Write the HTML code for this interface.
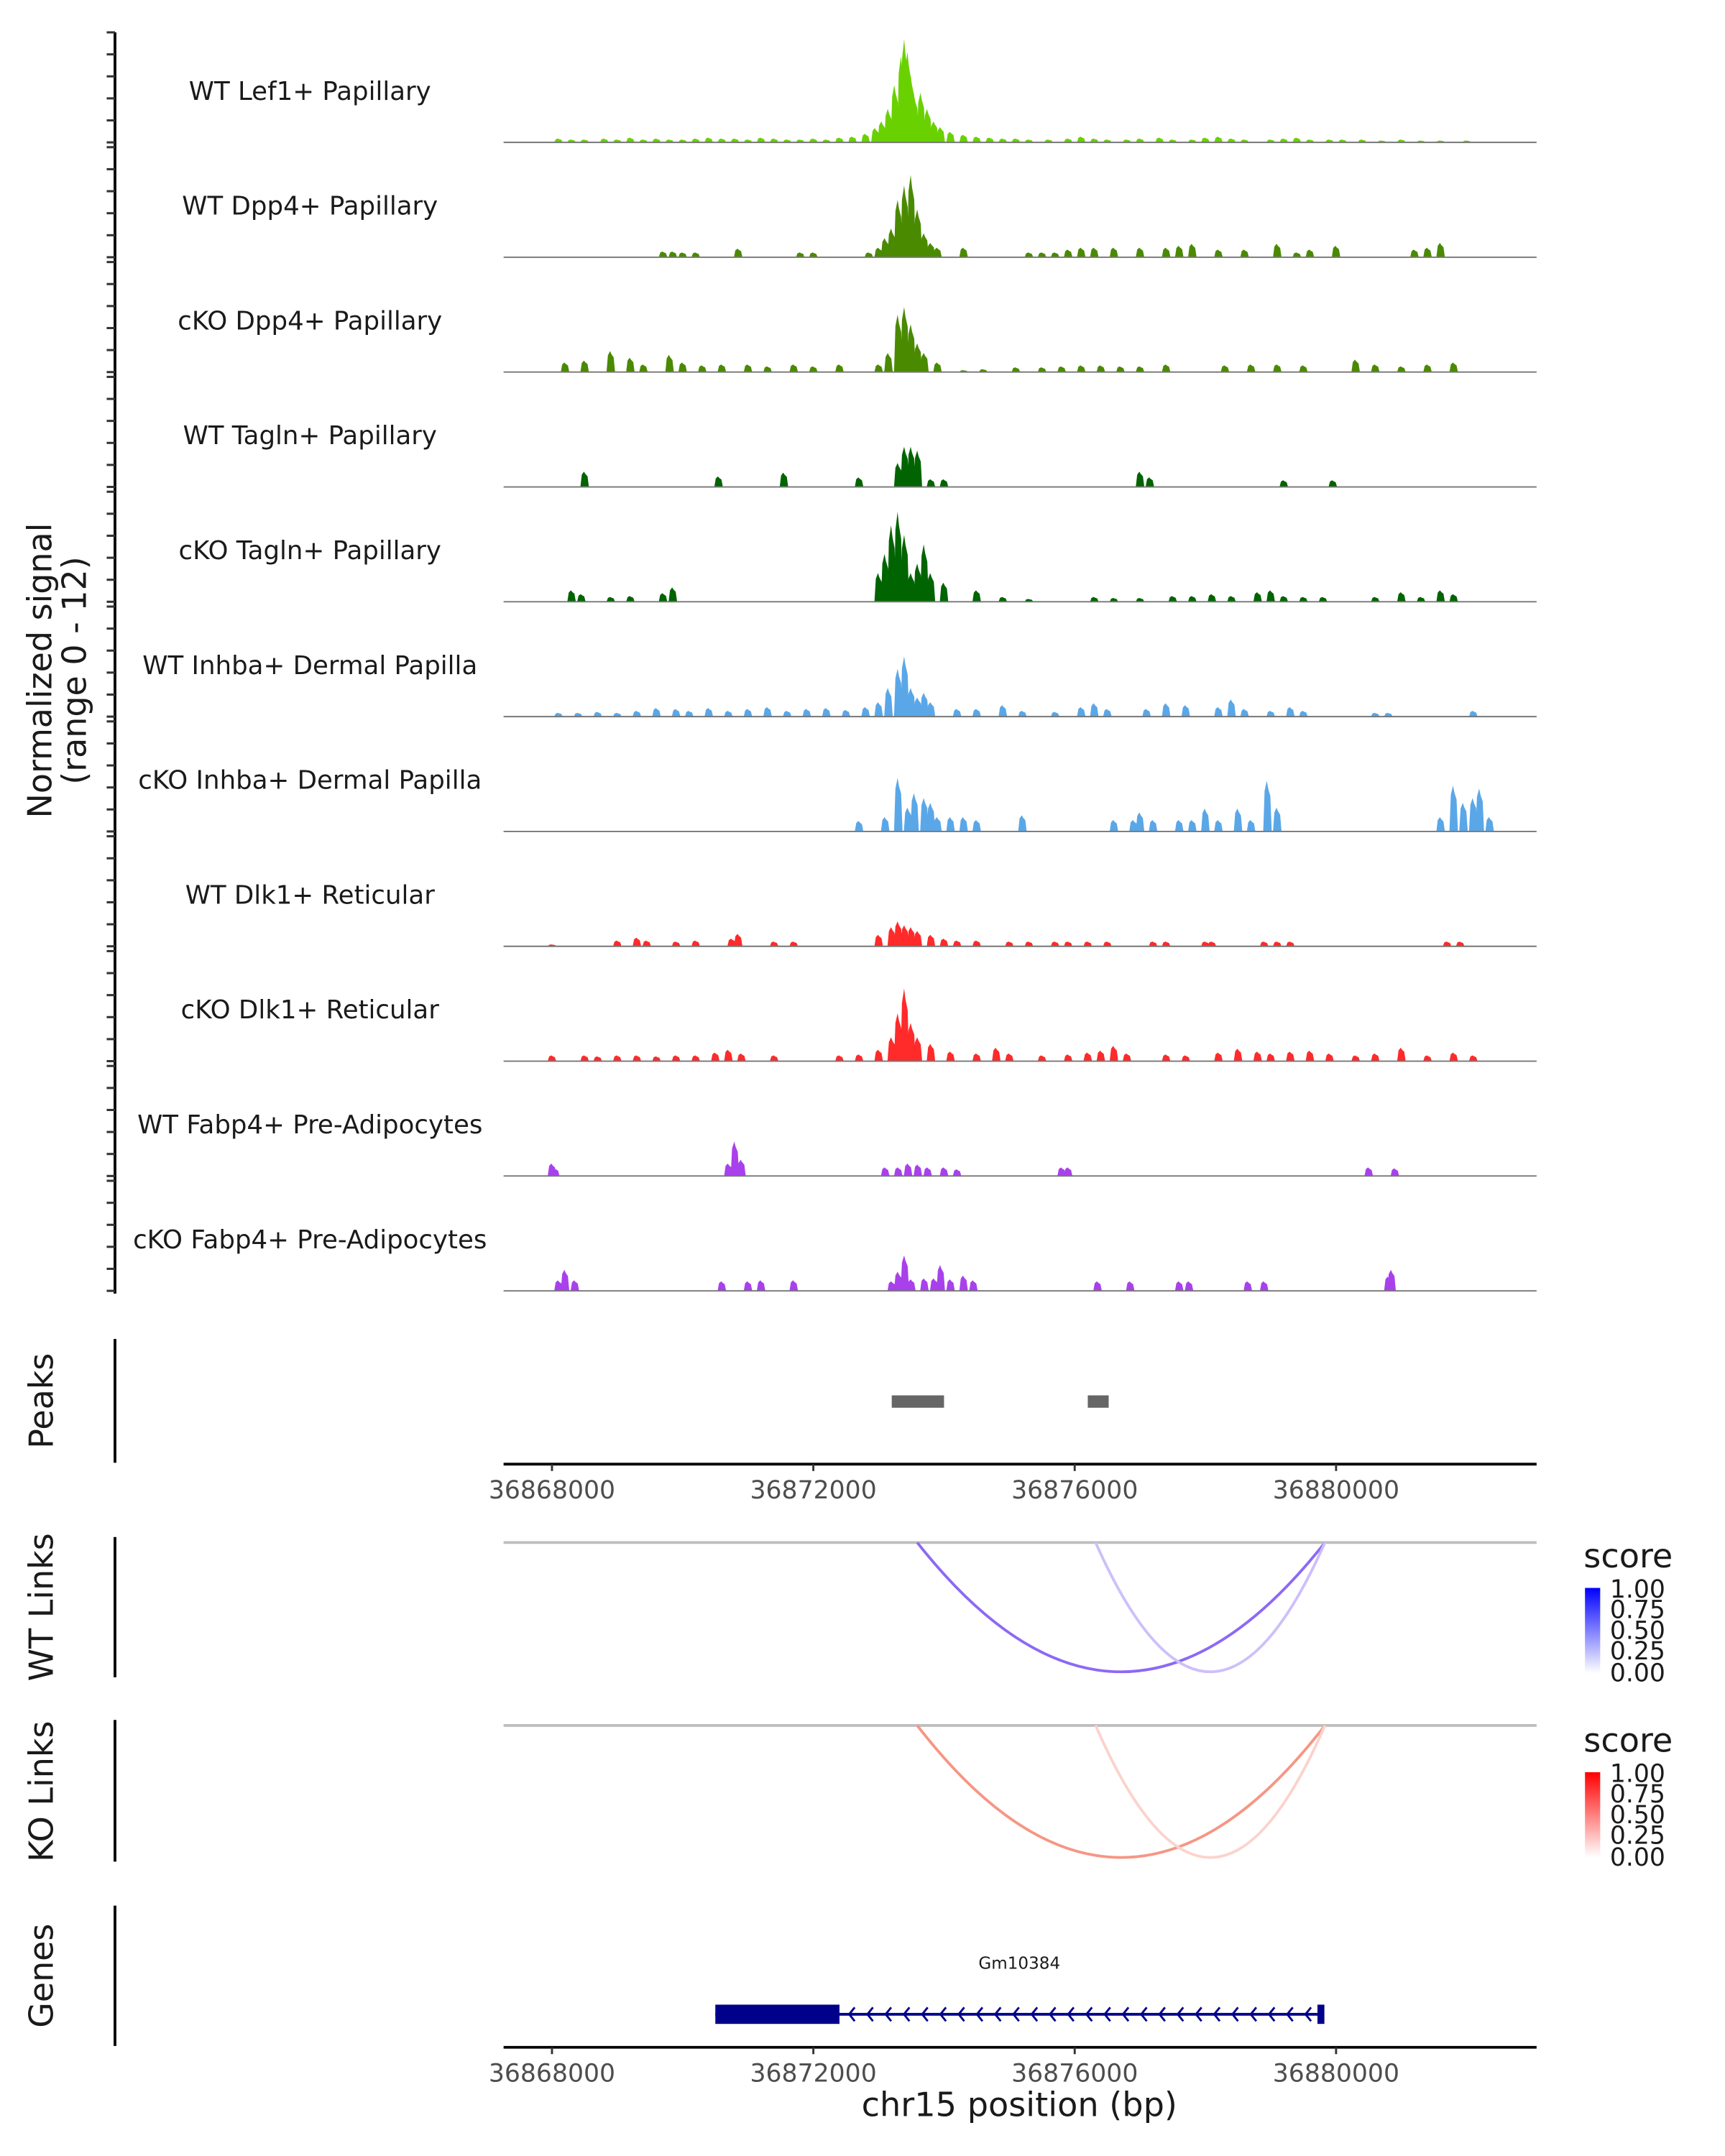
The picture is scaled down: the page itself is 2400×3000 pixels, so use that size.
<!DOCTYPE html>
<html><head><meta charset="utf-8">
<style>
html,body{margin:0;padding:0;background:#fff;}
svg{display:block;}
text{font-family:"DejaVu Sans","Liberation Sans",sans-serif;fill:#1a1a1a;}
</style></head>
<body>
<svg id="chart" xmlns="http://www.w3.org/2000/svg" width="2400" height="3000" viewBox="0 0 2400 3000">
<defs>
<linearGradient id="gblue" x1="0" y1="1" x2="0" y2="0"><stop offset="0" stop-color="#ffffff"/><stop offset="1" stop-color="#0000ff"/></linearGradient>
<linearGradient id="gred" x1="0" y1="1" x2="0" y2="0"><stop offset="0" stop-color="#ffffff"/><stop offset="1" stop-color="#ff0000"/></linearGradient>
</defs>
<g transform="matrix(1.924 0 0 1.9138 -7.4 1)">
<g id="tracks"></g>
<text transform="translate(41,487) rotate(-90)" text-anchor="middle" font-size="24">Normalized signal</text>
<text transform="translate(66,487) rotate(-90)" text-anchor="middle" font-size="24">(range 0 - 12)</text>
<line x1="87" y1="23" x2="87" y2="940" stroke="#000" stroke-width="2"/>
<g id="lticks"></g>

<text transform="translate(42,1018) rotate(-90)" text-anchor="middle" font-size="24">Peaks</text>
<line x1="87" y1="973" x2="87" y2="1063" stroke="#000" stroke-width="2"/>
<g id="peaks"></g>
<g id="axis1"></g>

<text transform="translate(42,1168) rotate(-90)" text-anchor="middle" font-size="24">WT Links</text>
<line x1="87" y1="1117" x2="87" y2="1219" stroke="#000" stroke-width="2"/>
<line x1="368" y1="1121" x2="1115" y2="1121" stroke="#bebebe" stroke-width="2"/>
<g id="wtlinks"></g>

<text transform="translate(42,1302) rotate(-90)" text-anchor="middle" font-size="24">KO Links</text>
<line x1="87" y1="1250" x2="87" y2="1353" stroke="#000" stroke-width="2"/>
<line x1="368" y1="1254" x2="1115" y2="1254" stroke="#bebebe" stroke-width="2"/>
<g id="kolinks"></g>

<g>
<text x="1149" y="1139" font-size="24">score</text>
<rect x="1150" y="1154" width="11" height="62" fill="url(#gblue)"/>
<g font-size="18"><text x="1168" y="1161">1.00</text><text x="1168" y="1176">0.75</text><text x="1168" y="1191">0.50</text><text x="1168" y="1206">0.25</text><text x="1168" y="1222">0.00</text></g>
</g>
<g>
<text x="1149" y="1273" font-size="24">score</text>
<rect x="1150" y="1288" width="11" height="62" fill="url(#gred)"/>
<g font-size="18"><text x="1168" y="1295">1.00</text><text x="1168" y="1310">0.75</text><text x="1168" y="1325">0.50</text><text x="1168" y="1340">0.25</text><text x="1168" y="1356">0.00</text></g>
</g>

<text transform="translate(42,1436) rotate(-90)" text-anchor="middle" font-size="24">Genes</text>
<line x1="87" y1="1385" x2="87" y2="1487" stroke="#000" stroke-width="2"/>
<g id="genes"></g>
<g id="axis2"></g>
<text x="741" y="1538" text-anchor="middle" font-size="24">chr15 position (bp)</text>
</g>
</svg>
<script>
// ---- data (offsets in kb from 36868000; values in normalized signal) ----
const trackNames = ["WT Lef1+ Papillary","WT Dpp4+ Papillary","cKO Dpp4+ Papillary","WT Tagln+ Papillary","cKO Tagln+ Papillary","WT Inhba+ Dermal Papilla","cKO Inhba+ Dermal Papilla","WT Dlk1+ Reticular","cKO Dlk1+ Reticular","WT Fabp4+ Pre-Adipocytes","cKO Fabp4+ Pre-Adipocytes"];
const trackColors = ["#6ad100","#4a8a00","#4a8a00","#006400","#006400","#5aa7e8","#5aa7e8","#ff2a2a","#ff2a2a","#a841ec","#a841ec"];
const t1 = [[0.1,0.4],[0.3,0.3],[0.5,0.3],[0.8,0.4],[1.0,0.3],[1.2,0.5],[1.4,0.3],[1.6,0.4],[1.8,0.3],[2.0,0.3],[2.2,0.4],[2.4,0.5],[2.6,0.4],[2.8,0.4],[3.0,0.3],[3.2,0.5],[3.4,0.4],[3.6,0.3],[3.8,0.3],[4.0,0.4],[4.2,0.3],[4.4,0.5],[4.6,0.6],[4.8,0.9],[4.95,1.5],[5.05,2.2],[5.15,3.5],[5.25,6],[5.35,9],[5.4,10.8],[5.45,9.5],[5.5,7],[5.55,5],[5.65,5.2],[5.75,3.5],[5.85,2.2],[5.95,1.6],[6.1,1.1],[6.3,0.8],[6.5,0.6],[6.7,0.5],[6.9,0.4],[7.1,0.4],[7.3,0.3],[7.6,0.3],[7.9,0.4],[8.1,0.6],[8.3,0.4],[8.5,0.3],[8.8,0.3],[9.0,0.4],[9.3,0.5],[9.5,0.3],[9.8,0.3],[10.0,0.5],[10.2,0.6],[10.4,0.4],[10.6,0.3],[11.0,0.3],[11.2,0.4],[11.4,0.5],[11.6,0.3],[11.9,0.3],[12.1,0.3],[12.4,0.3],[12.7,0.2],[13.0,0.3],[13.3,0.2],[13.6,0.2],[14.0,0.2]];
const t2 = [[1.7,0.6],[1.85,0.6],[2.0,0.5],[2.2,0.5],[2.85,0.9],[3.8,0.5],[4.0,0.5],[4.85,0.5],[5.0,1],[5.1,2],[5.2,3],[5.3,6],[5.4,7.5],[5.5,8.6],[5.6,5],[5.7,2.5],[5.8,1.5],[5.9,1],[6.3,1],[7.3,0.5],[7.5,0.5],[7.7,0.5],[7.9,0.8],[8.1,1],[8.3,1],[8.6,1],[9.0,1],[9.4,1],[9.6,1.2],[9.8,1.4],[10.2,0.8],[10.6,0.8],[11.1,1.4],[11.4,0.5],[11.6,0.8],[12.0,1.2],[13.2,0.8],[13.4,1],[13.6,1.5]];
const t3 = [[0.2,1],[0.5,1.2],[0.9,2.2],[1.2,1.5],[1.4,0.8],[1.8,1.8],[2.0,1],[2.3,0.7],[2.6,0.8],[3.0,0.8],[3.3,0.6],[3.7,0.8],[4.0,0.6],[4.4,0.8],[5.0,0.8],[5.15,2],[5.3,6],[5.4,6.8],[5.5,5],[5.6,3],[5.7,2],[5.9,1],[6.3,0.2],[6.6,0.3],[7.1,0.5],[7.5,0.5],[7.8,0.6],[8.1,0.7],[8.4,0.7],[8.7,0.6],[9.0,0.6],[9.4,0.8],[10.3,0.7],[10.7,0.8],[11.1,0.8],[11.5,0.7],[12.3,1.3],[12.6,0.8],[13.0,0.6],[13.4,0.8],[13.8,1]];
const t4 = [[0.5,1.6],[2.55,1.1],[3.55,1.5],[4.7,1.0],[5.3,2.5],[5.4,4.2],[5.5,4.2],[5.6,3.8],[5.8,0.8],[6.0,0.8],[9.0,1.6],[9.15,1.0],[11.2,0.7],[11.95,0.7]];
const t5 = [[0.3,1.2],[0.45,0.8],[0.9,0.5],[1.2,0.6],[1.7,0.9],[1.85,1.5],[5.0,3],[5.1,5],[5.2,8],[5.3,9.4],[5.4,7],[5.5,3],[5.6,4],[5.7,6],[5.8,3],[6.0,2],[6.5,1.2],[6.9,0.5],[7.3,0.3],[8.3,0.5],[8.6,0.4],[9.0,0.4],[9.5,0.6],[9.8,0.6],[10.1,0.8],[10.4,0.6],[10.8,1],[11.0,1.2],[11.2,0.6],[11.5,0.5],[11.8,0.5],[12.6,0.5],[13.0,1],[13.3,0.5],[13.6,1.2],[13.8,0.8]];
const t6 = [[0.1,0.4],[0.4,0.4],[0.7,0.5],[1.0,0.4],[1.3,0.6],[1.6,0.9],[1.9,0.8],[2.1,0.6],[2.4,0.9],[2.7,0.6],[3.0,0.8],[3.3,1],[3.6,0.6],[3.9,0.8],[4.2,0.9],[4.5,0.7],[4.8,1],[5.0,1.5],[5.15,3],[5.3,5],[5.4,6.3],[5.5,3],[5.6,2],[5.7,2.5],[5.8,1.5],[6.2,0.8],[6.5,0.8],[6.9,1.2],[7.2,0.6],[7.7,0.5],[8.1,1],[8.3,1.4],[8.5,0.8],[9.1,0.8],[9.4,1.4],[9.7,1.2],[10.2,1],[10.4,1.8],[10.6,0.8],[11.0,0.6],[11.3,1],[11.5,0.6],[12.6,0.4],[12.8,0.4],[14.1,0.6]];
const t7 = [[4.7,1.1],[5.1,1.5],[5.3,5.6],[5.45,2.5],[5.55,4],[5.7,3.5],[5.8,3],[5.9,1.5],[6.1,1.5],[6.3,1.5],[6.5,1.2],[7.2,1.7],[8.6,1.2],[8.9,1.2],[9.0,2],[9.2,1.2],[9.6,1.2],[9.8,1.2],[10.0,2.4],[10.2,1.2],[10.5,2.4],[10.7,1.2],[10.95,5.3],[11.1,2.5],[13.6,1.5],[13.8,4.8],[13.95,3],[14.1,3.5],[14.2,4.5],[14.35,1.5]];
const t8 = [[0.0,0.2],[1.0,0.6],[1.3,0.9],[1.45,0.6],[1.9,0.5],[2.2,0.6],[2.75,0.8],[2.85,1.3],[3.4,0.5],[3.7,0.5],[5.0,1.2],[5.2,2],[5.3,2.6],[5.4,2.2],[5.5,2],[5.6,1.6],[5.8,1.2],[6.0,0.8],[6.2,0.6],[6.5,0.6],[7.0,0.5],[7.3,0.5],[7.7,0.5],[7.9,0.5],[8.2,0.5],[8.5,0.5],[9.2,0.5],[9.4,0.5],[10.0,0.5],[10.1,0.5],[10.9,0.5],[11.1,0.5],[11.3,0.5],[13.7,0.5],[13.9,0.5]];
const t9 = [[0.0,0.6],[0.5,0.6],[0.7,0.5],[1.0,0.6],[1.3,0.6],[1.6,0.5],[1.9,0.6],[2.2,0.6],[2.5,0.9],[2.7,1.2],[2.9,0.8],[3.4,0.6],[4.4,0.6],[4.7,0.7],[5.0,1.2],[5.2,2.5],[5.3,5],[5.4,7.6],[5.5,4],[5.6,2.5],[5.8,1.8],[6.1,1],[6.5,0.8],[6.8,1.4],[7.0,0.8],[7.5,0.6],[7.9,0.7],[8.2,0.9],[8.4,1.1],[8.6,1.6],[8.8,0.8],[9.4,0.7],[9.7,0.6],[10.2,0.9],[10.5,1.3],[10.8,1],[11.0,0.8],[11.3,1],[11.6,1.1],[11.9,0.8],[12.3,0.6],[12.6,0.8],[13.0,1.4],[13.4,0.6],[13.8,0.9],[14.1,0.6]];
const t10 = [[0.0,1.3],[0.05,0.8],[2.7,1.3],[2.8,3.6],[2.9,1.7],[5.1,0.9],[5.3,0.9],[5.45,1.3],[5.6,1.2],[5.75,0.9],[6.0,0.9],[6.2,0.7],[7.8,0.9],[7.9,0.9],[12.5,0.9],[12.9,0.8]];
const t11 = [[0.1,1.1],[0.2,2.2],[0.35,1.1],[2.6,1],[3.0,1],[3.2,1.1],[3.7,1.1],[5.2,1],[5.3,2],[5.4,3.7],[5.5,1.2],[5.7,1.3],[5.85,1.3],[5.95,2.7],[6.1,1.2],[6.3,1.6],[6.45,1.1],[8.35,1],[8.85,1],[9.6,1],[9.75,1],[10.65,1],[10.9,1],[12.8,1.5],[12.85,2.2]];
const trackData = [t1,t2,t3,t4,t5,t6,t7,t8,t9,t10,t11];
const peakStarts = [36873200, 36876200];
const peakEnds = [36874000, 36876520];
const wtLinkStart = [36873590, 36876320];
const wtLinkEnd = [36879830, 36879830];
const wtLinkScore = [0.7, 0.3];
const koLinkStart = [36873590, 36876320];
const koLinkEnd = [36879830, 36879830];
const koLinkScore = [0.6, 0.25];
const xTicks = [36868000, 36872000, 36876000, 36880000];
const geneStart = 36870500, geneEnd = 36879800, utrEnd = 36872400;

// ---- scales ----
const NS = "http://www.w3.org/2000/svg";
const X0 = 403, PXBP = 189/4000;
function xs(bp){ return X0 + (bp-36868000)*PXBP; }
function xk(kb){ return X0 + kb*1000*PXBP; }
const baseY0 = 103, trackStep = 83.5, unitPx = 6.95;
function mk(tag, attrs, parent){ const e=document.createElementNS(NS,tag); for(const k in attrs) e.setAttribute(k,attrs[k]); parent.appendChild(e); return e; }

const tracks = document.getElementById('tracks');
const lt = document.getElementById('lticks');
trackData.forEach((d,i)=>{
  const by = baseY0 + i*trackStep;
  const g = mk('g',{},tracks);
  
  
  const lab = mk('text',{x:228,y:by-31,'text-anchor':'middle','font-size':18.5},g);
  lab.textContent = trackNames[i];
  
  
  const w = 0.13*1000*PXBP;
  let p = '';
  d.forEach(([k,v])=>{
    const cx = xk(k), h = v*unitPx;
    p += `M${(cx-w/2).toFixed(2)},${by} L${(cx-w/2+1).toFixed(2)},${(by-h*0.8).toFixed(2)} L${(cx-0.5).toFixed(2)},${(by-h).toFixed(2)} L${(cx+0.5).toFixed(2)},${(by-h*0.85).toFixed(2)} L${(cx+w/2-1).toFixed(2)},${(by-h*0.7).toFixed(2)} L${(cx+w/2).toFixed(2)},${by} Z `;
  });
  const path = mk('path',{d:p,fill:trackColors[i]},g);
  
  
  const bl = mk('line',{x1:368,x2:1115,y1:by,y2:by,stroke:'#777','stroke-width':1},g);
  
  
  for(let k=0;k<=5;k++){ const y=by-k*16; mk('line',{x1:81,x2:87,y1:y,y2:y,stroke:'#333','stroke-width':1.6},lt); }
});

const pk = document.getElementById('peaks');
peakStarts.forEach((s,i)=>{
  const r = mk('rect',{x:xs(s),y:1014,width:xs(peakEnds[i])-xs(s),height:9,fill:'#666'},pk);
  
  
});

function axis(id, y){
  const g = document.getElementById(id);
  mk('line',{x1:368,x2:1115,y1:y,y2:y,stroke:'#000','stroke-width':2},g);
  xTicks.forEach(t=>{
    const x = xs(t);
    mk('line',{x1:x,x2:x,y1:y,y2:y+5,stroke:'#333','stroke-width':1.5},g);
    const tx = mk('text',{x:x,y:y+25,'text-anchor':'middle','font-size':18},g);
    tx.style.fill='#4d4d4d';
    tx.textContent = t;
    
    
  });
}
axis('axis1',1064); axis('axis2',1488);

function links(id, base, bottom, st, en, sc, rgb){
  const g = document.getElementById(id);
  st.forEach((s,i)=>{
    const x1 = xs(s), x2 = xs(en[i]);
    const cy = 2*bottom - base;
    const a = sc[i];
    const col = `rgb(${Math.round(255-(255-rgb[0])*a)},${Math.round(255-(255-rgb[1])*a)},${Math.round(255-(255-rgb[2])*a)})`;
    const p = mk('path',{d:`M${x1},${base} Q${(x1+x2)/2},${cy} ${x2},${base}`,fill:'none',stroke:col,'stroke-width':2},g);
    
    
  });
}
links('wtlinks',1121,1215,wtLinkStart,wtLinkEnd,wtLinkScore,[90,40,240]);
links('kolinks',1254,1350,koLinkStart,koLinkEnd,koLinkScore,[240,80,50]);

const gg = document.getElementById('genes');
const gl = mk('text',{x:741,y:1431,'text-anchor':'middle','font-size':12},gg);
gl.textContent = 'Gm10384';


mk('line',{x1:xs(geneStart),x2:xs(geneEnd),y1:1464,y2:1464,stroke:'#00008b','stroke-width':2},gg);
const utr = mk('rect',{x:xs(geneStart),y:1457,width:xs(utrEnd)-xs(geneStart),height:14,fill:'#00008b'},gg);


mk('rect',{x:xs(geneEnd)-4,y:1457,width:5,height:14,fill:'#00008b'},gg);
let ch='';
for(let x=xs(utrEnd)+7; x<xs(geneEnd)-8; x+=13.2){ ch += `M${x+4},${1459} L${x},${1464} L${x+4},${1469} `; }
mk('path',{d:ch,fill:'none',stroke:'#00008b','stroke-width':1.5},gg);
</script>
</body></html>
